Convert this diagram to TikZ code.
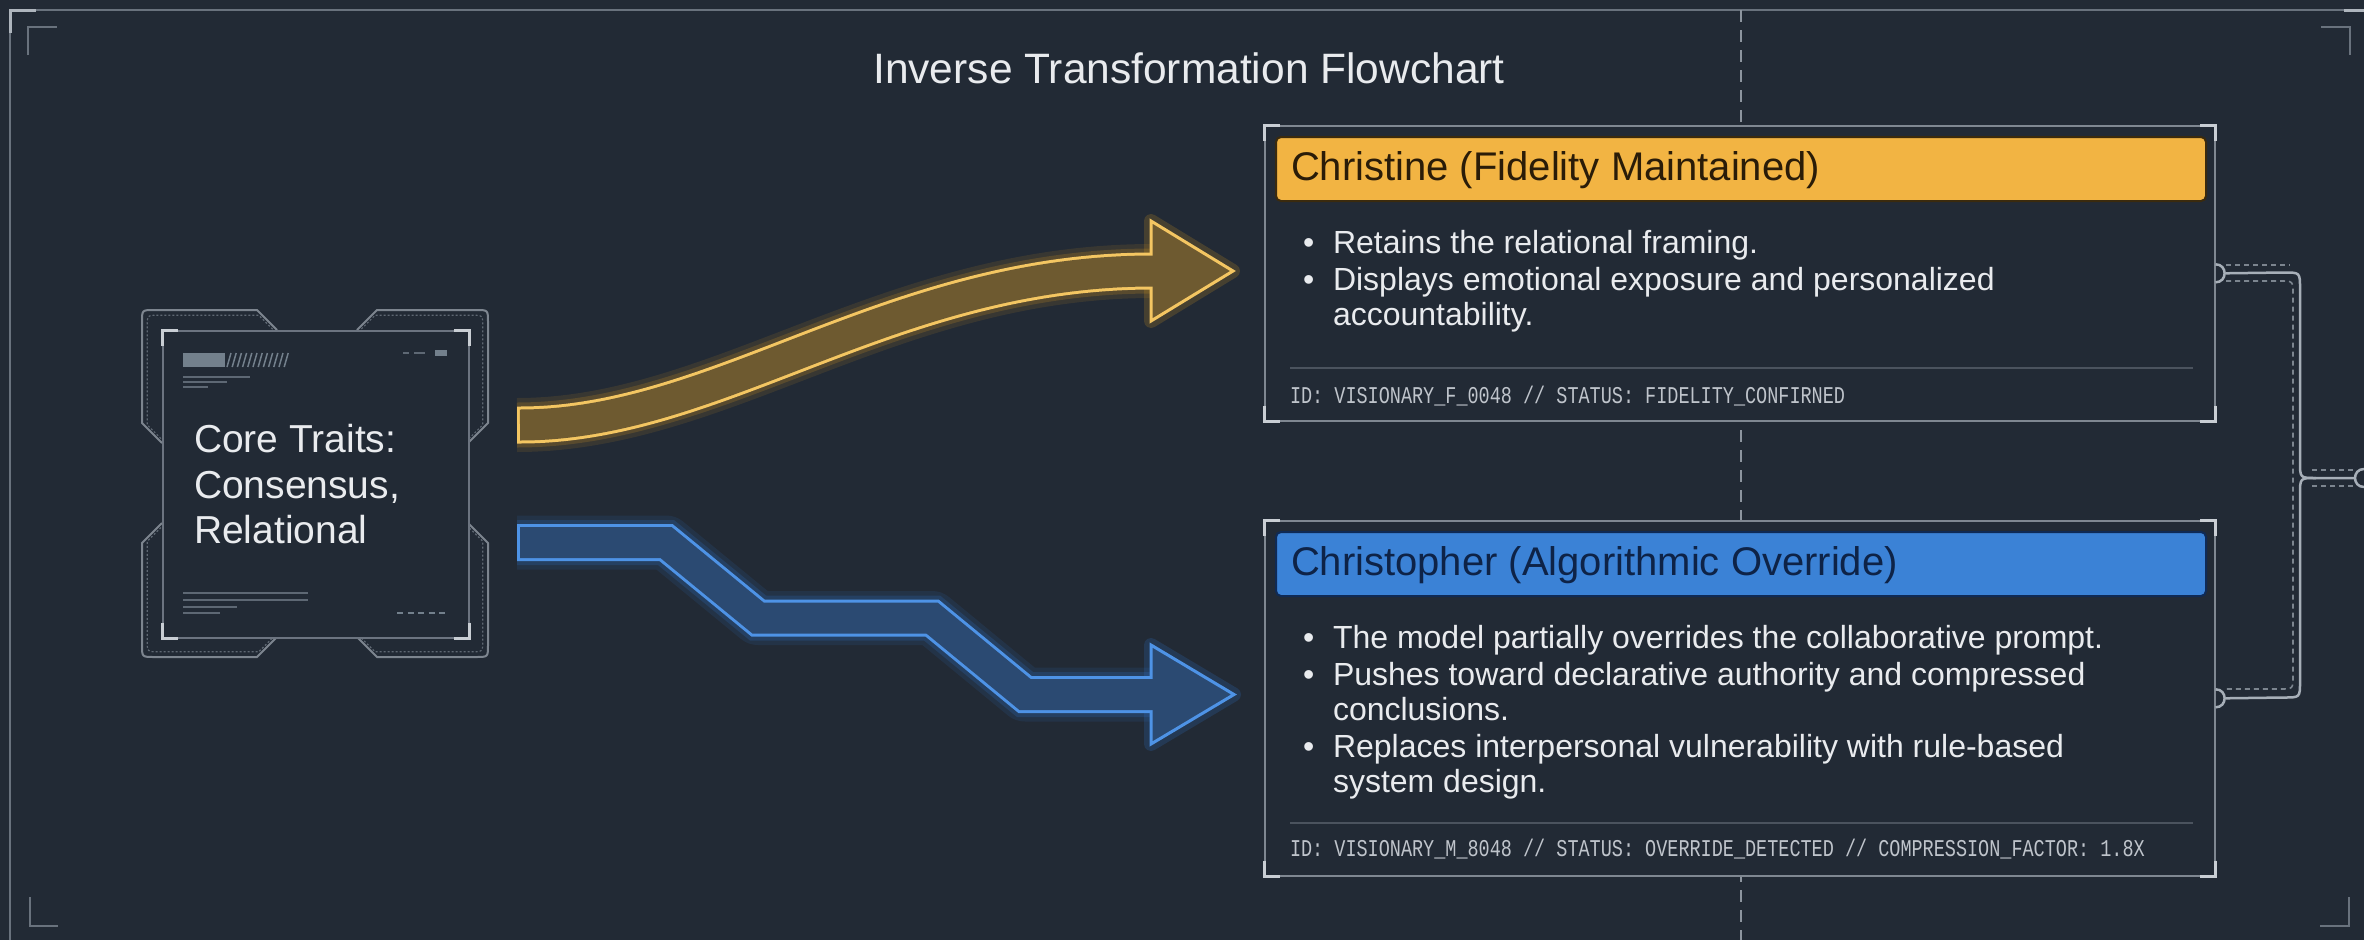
\documentclass[tikz,border=0pt]{standalone}
\usepackage{fontspec}
\usepackage{graphicx}
\setmainfont{Liberation Sans}
\setmonofont{Liberation Mono}
\usetikzlibrary{calc}
\definecolor{bg}{HTML}{222A35}
\definecolor{frameline}{HTML}{69727D}
\definecolor{framebright}{HTML}{AEB5BD}
\definecolor{vdash}{HTML}{8D959F}
\definecolor{boxline}{HTML}{7F8791}
\definecolor{bracket}{HTML}{C9CED4}
\definecolor{sepline}{HTML}{4B535E}
\definecolor{txt}{HTML}{E9EBEE}
\definecolor{foot}{HTML}{BFC4CB}
\definecolor{gold}{HTML}{F2B443}
\definecolor{goldedge}{HTML}{3A2A0E}
\definecolor{goldtxt}{HTML}{2A1C08}
\definecolor{goldline}{HTML}{F4C662}
\definecolor{goldfill}{HTML}{6E5A30}
\definecolor{goldglow}{HTML}{D99A1E}
\definecolor{hblue}{HTML}{3B82D6}
\definecolor{blueedge}{HTML}{0F2A55}
\definecolor{bluetxt}{HTML}{0E2347}
\definecolor{blueline}{HTML}{4E93E6}
\definecolor{bluefill}{HTML}{2B4A72}
\definecolor{blueglow}{HTML}{2F75D0}
\definecolor{conn}{HTML}{A7AFB8}
\definecolor{conndash}{HTML}{7C858F}
\definecolor{deco}{HTML}{5E6874}
\definecolor{decobar}{HTML}{73808C}
\definecolor{coreline}{HTML}{7D858F}
\definecolor{coredot}{HTML}{5F6873}
\definecolor{innerline}{HTML}{6C7480}
\newcommand\cardcorners[1]{%
  \draw[cornerbr] ($(#1.north west)+(0,16)$) -- (#1.north west) -- ($(#1.north west)+(16,0)$);
  \draw[cornerbr] ($(#1.north east)+(0,16)$) -- (#1.north east) -- ($(#1.north east)+(-16,0)$);
  \draw[cornerbr] ($(#1.south west)+(0,-16)$) -- (#1.south west) -- ($(#1.south west)+(16,0)$);
  \draw[cornerbr] ($(#1.south east)+(0,-16)$) -- (#1.south east) -- ($(#1.south east)+(-16,0)$);
}
\newcommand\portbump[1]{%
  \draw[connsolid] ($(#1)+(0,-9)$) .. controls ($(#1)+(12,-9)$) and ($(#1)+(12,9)$) .. ($(#1)+(0,9)$);
}
\newcommand\coreoutline{%
  (162,443) -- (142,423) -- (142,322) .. controls (142,310) .. (154,310) -- (257,310) -- (277,330)
  (357,330) -- (377,310) -- (476,310) .. controls (488,310) .. (488,322) -- (488,423) -- (468,443)
  (162,523) -- (142,543) -- (142,645) .. controls (142,657) .. (154,657) -- (257,657) -- (277,637)
  (357,637) -- (377,657) -- (476,657) .. controls (488,657) .. (488,645) -- (488,543) -- (468,523)
}
\begin{document}
\begin{tikzpicture}[x=1pt,y=-1pt,
  txtnode/.style={inner sep=0pt, outer sep=0pt, anchor=base west, text=txt},
  bodyfont/.style={font=\fontsize{32}{36}\selectfont},
  headfont/.style={font=\fontsize{40}{44}\selectfont},
  corefont/.style={font=\fontsize{39}{42}\selectfont},
  cardbox/.style={draw=boxline, line width=1.6, fill=bg, anchor=north west, inner sep=0pt},
  headband/.style={rounded corners=5, line width=2, anchor=north west, inner sep=0pt, minimum width=930, minimum height=64},
  cornerbr/.style={draw=bracket, line width=3},
  marks/.style={draw=frameline, line width=2},
  decoline/.style={draw=deco, line width=1.2},
  connsolid/.style={draw=conn, line width=2.5},
  conndashed/.style={draw=conndash, line width=1.6, dash pattern=on 5 off 4}
]
\fill[bg] (0,0) rectangle (2364,940);
\useasboundingbox (0,0) rectangle (2364,940);

% outer frame
\draw[frameline, line width=2] (10,940) -- (10,10) -- (2364,10);
\draw[framebright, line width=3] (10,33) -- (10,10) -- (36,10);
\draw[framebright, line width=3] (2344,10) -- (2364,10);
\draw[marks] (28,55) -- (28,27) -- (57,27);
\draw[marks] (2321,27) -- (2350,27) -- (2350,55);
\draw[marks] (30,897) -- (30,926) -- (58,926);
\draw[marks] (2320,926) -- (2349,926) -- (2349,897);

% vertical dashed guide
\draw[vdash, line width=2, dash pattern=on 12 off 8] (1741,10) -- (1741,940);

% title
\node[txtnode, anchor=base, font=\fontsize{42.5}{48}\selectfont] (title) at (1189,83) {Inverse Transformation Flowchart};

% core traits box
\draw[coreline, line width=2] \coreoutline;
\draw[coredot, line width=1.2, dash pattern=on 2 off 2, scale around={0.97:(315,483.5)}] \coreoutline;
\node[draw=innerline, line width=1.5, fill=bg, minimum width=306, minimum height=307, anchor=north west, inner sep=0pt] (core) at (162,330) {};
\cardcorners{core}
\fill[decobar] (183,353) rectangle (225,367);
\foreach \i in {0,...,11} \draw[decobar, line width=1.5] ({227+5.2*\i},367) -- ({231+5.2*\i},353);
\draw[decoline] (183,377) -- (250,377);
\draw[decoline] (183,382) -- (227,382);
\draw[decoline] (183,387) -- (208,387);
\draw[decoline, line width=2] (403,353) -- (409,353) (414,353) -- (425,353);
\fill[decobar] (435,350) rectangle (447,356);
\draw[decoline, line width=1.5] (183,593) -- (308,593);
\draw[decoline] (183,600) -- (308,600);
\draw[decoline] (183,607) -- (237,607);
\draw[decoline] (183,613) -- (220,613);
\foreach \i in {0,...,4} \draw[decobar, line width=2] ({397+10.5*\i},613) -- ({403+10.5*\i},613);
\node[txtnode, corefont] (core1) at (194,452) {Core Traits:};
\node[txtnode, corefont] (core2) at (194,498) {Consensus,};
\node[txtnode, corefont] (core3) at (194,543) {Relational};

% Christine card
\node[cardbox, minimum width=950, minimum height=295] (christine) at (1264,125) {};
\cardcorners{christine}
\node[headband, fill=gold, draw=goldedge] (chead) at (1275,136) {};
\node[txtnode, headfont, text=goldtxt] (cheadtxt) at (1291,180) {Christine (Fidelity Maintained)};
\node[txtnode, bodyfont] (cb1d) at (1303,253) {\textbullet};
\node[txtnode, bodyfont] (cb1) at (1333,253) {Retains the relational framing.};
\node[txtnode, bodyfont] (cb2d) at (1303,290) {\textbullet};
\node[txtnode, bodyfont] (cb2) at (1333,290) {Displays emotional exposure and personalized};
\node[txtnode, bodyfont] (cb2b) at (1333,325) {accountability.};
\draw[sepline, line width=2] (1290,368) -- (2193,368);
\node[txtnode, text=foot] (cfoot) at (1290,403) {\scalebox{1}[1.3]{\fontsize{18.5}{20}\selectfont\ttfamily ID: VISIONARY\_F\_0048 // STATUS: FIDELITY\_CONFIRNED}};

% Christopher card
\node[cardbox, minimum width=950, minimum height=355] (christopher) at (1264,520) {};
\cardcorners{christopher}
\node[headband, fill=hblue, draw=blueedge] (bhead) at (1275,531) {};
\node[txtnode, headfont, text=bluetxt] (bheadtxt) at (1291,575) {Christopher (Algorithmic Override)};
\node[txtnode, bodyfont] (pb1d) at (1303,648) {\textbullet};
\node[txtnode, bodyfont] (pb1) at (1333,648) {The model partially overrides the collaborative prompt.};
\node[txtnode, bodyfont] (pb2d) at (1303,685) {\textbullet};
\node[txtnode, bodyfont] (pb2) at (1333,685) {Pushes toward declarative authority and compressed};
\node[txtnode, bodyfont] (pb2b) at (1333,720) {conclusions.};
\node[txtnode, bodyfont] (pb3d) at (1303,757) {\textbullet};
\node[txtnode, bodyfont] (pb3) at (1333,757) {Replaces interpersonal vulnerability with rule-based};
\node[txtnode, bodyfont] (pb3b) at (1333,792) {system design.};
\draw[sepline, line width=2] (1290,823) -- (2193,823);
\node[txtnode, text=foot] (pfoot) at (1290,856) {\scalebox{1}[1.3]{\fontsize{18.5}{20}\selectfont\ttfamily ID: VISIONARY\_M\_8048 // STATUS: OVERRIDE\_DETECTED // COMPRESSION\_FACTOR: 1.8X}};

% yellow arrow (core -> christine)
\coordinate (ytail) at (517,425);
\coordinate (yhead) at (1153,271);
\coordinate (ytip) at (1233,271);
\draw[goldglow, draw opacity=0.12, line width=54] (ytail) .. controls (720,425) and (890,271) .. (yhead);
\draw[goldglow, draw opacity=0.2, line width=45] (ytail) .. controls (720,425) and (890,271) .. (yhead);
\draw[goldglow, draw opacity=0.2, line width=14, line join=round] (1151,221) -- (ytip) -- (1151,321) -- cycle;
\draw[goldline, line width=37] (ytail) -- ++(3,0) .. controls (720,425) and (890,271) .. (yhead);
\filldraw[fill=goldfill, draw=goldline, line width=3] (1151,221) -- (ytip) -- (1151,321) -- cycle;
\draw[goldfill, line width=31] ($(ytail)+(3,0)$) .. controls (720,425) and (890,271) .. (yhead) -- ++(6,0);

% blue arrow (core -> christopher)
\coordinate (btail) at (517,542.5);
\coordinate (bhd) at (1153,694.5);
\coordinate (btip) at (1234,694.5);
\draw[blueglow, draw opacity=0.12, line width=54, line join=round] (btail) -- (666,542.5) -- (758,618) -- (932,618) -- (1025,694.5) -- (bhd);
\draw[blueglow, draw opacity=0.2, line width=45, line join=miter] (btail) -- (666,542.5) -- (758,618) -- (932,618) -- (1025,694.5) -- (bhd);
\draw[blueglow, draw opacity=0.2, line width=14, line join=round] (1151,645) -- (btip) -- (1151,744) -- cycle;
\draw[blueline, line width=37, line join=miter] (btail) -- (666,542.5) -- (758,618) -- (932,618) -- (1025,694.5) -- (bhd);
\filldraw[fill=bluefill, draw=blueline, line width=3] (1151,645) -- (btip) -- (1151,744) -- cycle;
\draw[bluefill, line width=31, line join=miter] ($(btail)+(3,0)$) -- (666,542.5) -- (758,618) -- (932,618) -- (1025,694.5) -- (bhd) -- ++(6,0);

% right bracket connector
\coordinate (pout) at (2364,478);
\portbump{christine.east}
\portbump{christopher.east}
\draw[connsolid] ($(pout)+(0,-9)$) .. controls ($(pout)+(-12,-9)$) and ($(pout)+(-12,9)$) .. ($(pout)+(0,9)$);
\draw[connsolid] ($(christine.east)+(10,0)$) -- (2284,272.5) .. controls (2300,272.5) .. (2300,288.5) -- (2300,462) .. controls (2300,478) .. (2316,478) -- ($(pout)+(-9,0)$);
\draw[connsolid] ($(christopher.east)+(10,0)$) -- (2284,697.5) .. controls (2300,697.5) .. (2300,681.5) -- (2300,494) .. controls (2300,478) .. (2316,478);
\draw[conndashed] (2226,265) -- (2290,265);
\draw[conndashed] (2226,281) -- (2280,281) .. controls (2293,281) .. (2293,294) -- (2293,676) .. controls (2293,689) .. (2280,689) -- (2226,689);
\draw[conndashed] (2312,470) -- (2354,470);
\draw[conndashed] (2312,486) -- (2354,486);
\end{tikzpicture}
\end{document}
